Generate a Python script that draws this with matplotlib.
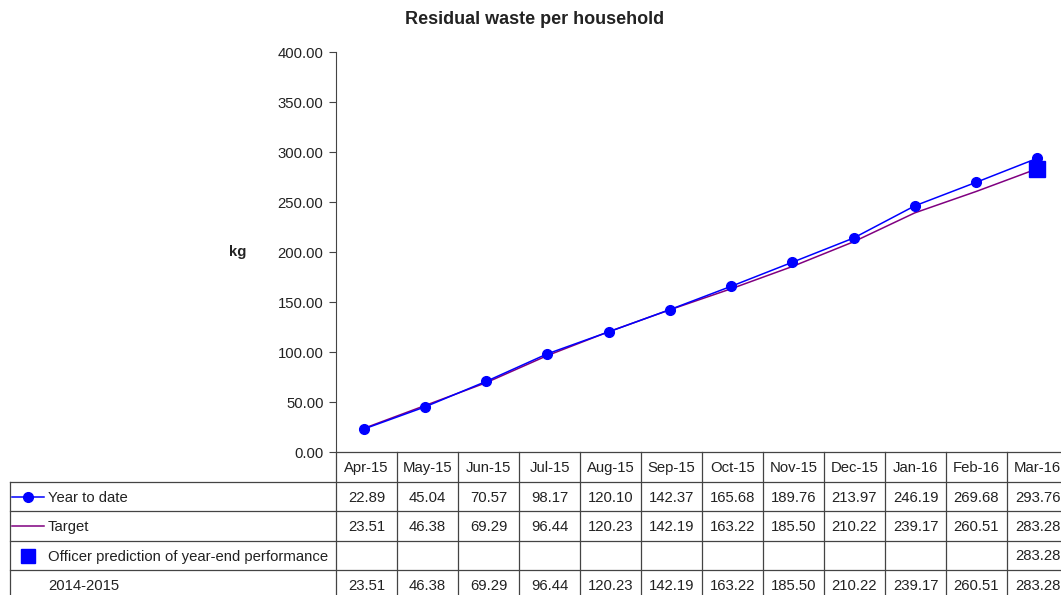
import matplotlib
matplotlib.use("Agg")
import matplotlib.pyplot as plt
from matplotlib.lines import Line2D

plt.rcParams['font.family'] = ['Liberation Sans', 'DejaVu Sans']

# data
months = ["Apr-15", "May-15", "Jun-15", "Jul-15", "Aug-15", "Sep-15",
          "Oct-15", "Nov-15", "Dec-15", "Jan-16", "Feb-16", "Mar-16"]
ytd = [22.89, 45.04, 70.57, 98.17, 120.10, 142.37,
       165.68, 189.76, 213.97, 246.19, 269.68, 293.76]
target = [23.51, 46.38, 69.29, 96.44, 120.23, 142.19,
          163.22, 185.50, 210.22, 239.17, 260.51, 283.28]
prediction = [None] * 11 + [283.28]
last_year = [23.51, 46.38, 69.29, 96.44, 120.23, 142.19,
             163.22, 185.50, 210.22, 239.17, 260.51, 283.28]
yticks = [0, 50, 100, 150, 200, 250, 300, 350, 400]

W, H = 1061, 595
fig = plt.figure(figsize=(W / 100, H / 100), dpi=100)

# layout in pixels
x0, colw = 336, 61.0
xr = x0 + colw * 12
ytop, ybot = 52, 452
rows = [452, 482, 511, 541, 570, 600]
fs = 10.7

ax = fig.add_axes([x0 / W, 1 - ybot / H, (xr - x0) / W, (ybot - ytop) / H])
xs = list(range(len(months)))
ax.plot(xs, target, color='#800080', lw=1.1, zorder=2)
ax.plot(xs, ytd, color='#0000FF', lw=1.1, marker='o', ms=7, zorder=3)
px = [i for i, v in enumerate(prediction) if v is not None]
pv = [v for v in prediction if v is not None]
ax.plot(px, pv, ls='none', marker='s', ms=11, color='#0000FF', zorder=4)
ax.set_xlim(-0.45, len(months) - 0.5)
ax.set_ylim(0, 400)
ax.set_yticks(yticks)
ax.set_yticklabels(["%.2f" % t for t in yticks], fontsize=fs, color='#222222')
ax.set_xticks([])
for s in ['top', 'right', 'bottom']:
    ax.spines[s].set_visible(False)
ax.spines['left'].set_color('#444444')
ax.tick_params(axis='y', direction='out', length=5, color='#444444', pad=4)
ax.patch.set_alpha(0)

fig.text(535 / W, 1 - 20 / H, "Residual waste per household", ha='center',
         va='center', fontsize=13, fontweight='bold', color='#222222')
fig.text(238 / W, 1 - 252 / H, "kg", ha='center', va='center',
         fontsize=fs, fontweight='bold', color='#222222')

# data table drawn in pixel coordinates
tab = fig.add_axes([0, 0, 1, 1])
tab.set_xlim(0, W)
tab.set_ylim(H, 0)
tab.axis('off')
lc, lw = '#444444', 0.9
tab.add_line(Line2D([x0, xr], [rows[0], rows[0]], color=lc, lw=lw))
for r in rows[1:-1]:
    tab.add_line(Line2D([10, xr], [r, r], color=lc, lw=lw))
tab.add_line(Line2D([10, 10], [rows[1], rows[-1]], color=lc, lw=lw))
for i in range(len(months) + 1):
    xv = x0 + colw * i
    tab.add_line(Line2D([xv, xv], [rows[0], rows[-1]], color=lc, lw=lw))

tc = '#222222'
for i, m in enumerate(months):
    cx = x0 + colw * (i + 0.5)
    tab.text(cx, (rows[0] + rows[1]) / 2 + 1, m, ha='center', va='center',
             fontsize=fs, color=tc)
table_rows = [ytd, target, prediction, last_year]
names = ["Year to date", "Target", "Officer prediction of year-end performance",
         "2014-2015"]
for k, series in enumerate(table_rows):
    cy = (rows[k + 1] + rows[k + 2]) / 2 + 1
    tab.text(48, cy, names[k], ha='left', va='center', fontsize=fs, color=tc)
    for i, v in enumerate(series):
        if v is None:
            continue
        cx = x0 + colw * (i + 0.5)
        tab.text(cx, cy, "%.2f" % v, ha='center', va='center',
                 fontsize=fs, color=tc)

# legend keys inside the table
cy = (rows[1] + rows[2]) / 2
tab.plot([12, 44], [cy, cy], color='#0000FF', lw=1.1)
tab.plot([28], [cy], marker='o', ms=7, color='#0000FF')
cy = (rows[2] + rows[3]) / 2
tab.plot([12, 44], [cy, cy], color='#800080', lw=1.1)
cy = (rows[3] + rows[4]) / 2
tab.plot([28], [cy], marker='s', ms=9.5, color='#0000FF', ls='none')

fig.savefig("out.png", dpi=100)
